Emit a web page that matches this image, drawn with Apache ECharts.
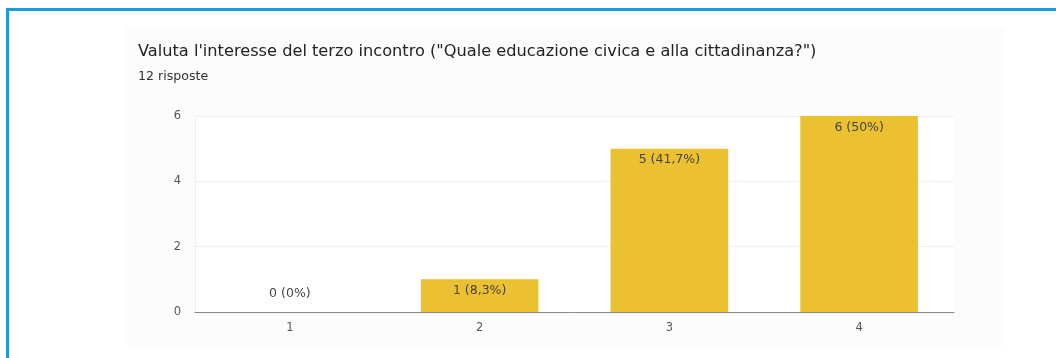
<!DOCTYPE html>
<html>
<head>
<meta charset="utf-8">
<script src="https://cdn.jsdelivr.net/npm/echarts@6/dist/echarts.min.js"></script>
<style>
html,body{margin:0;padding:0;background:#fff;}
#chart{width:1056px;height:358px;}
</style>
</head>
<body>
<div id="chart"></div>
<script>
const titleText = 'Valuta l\'interesse del terzo incontro ("Quale educazione civica e alla cittadinanza?")';
const subtitleText = '12 risposte';
const categories = ['1', '2', '3', '4'];
const counts = [0, 1, 5, 6];
const barLabels = ['0 (0%)', '1 (8,3%)', '5 (41,7%)', '6 (50%)'];
const yTicks = [0, 2, 4, 6];

const FONT = 'DejaVu Sans';
const chart = echarts.init(document.getElementById('chart'), null, {renderer: 'canvas'});
const option = {
  animation: false,
  backgroundColor: '#ffffff',
  graphic: [
    {type: 'rect', shape: {x: 125, y: 28, width: 880, height: 318}, style: {fill: '#fcfcfc'}, z: -10, silent: true},
    {type: 'rect', shape: {x: 6, y: 8, width: 1050, height: 3}, style: {fill: '#1a9be0'}, z: 10},
    {type: 'rect', shape: {x: 6, y: 8, width: 3, height: 350}, style: {fill: '#1a9be0'}, z: 10}
  ],
  title: [
    {text: titleText, left: 133, top: 39, textStyle: {fontFamily: FONT, fontSize: 16.2, fontWeight: 'normal', color: '#222'}},
    {text: subtitleText, left: 133, top: 65, textStyle: {fontFamily: FONT, fontSize: 12.6, fontWeight: 'normal', color: '#333'}}
  ],
  grid: {left: 195, right: 102, top: 116, bottom: 46, show: true, backgroundColor: '#ffffff', borderWidth: 0},
  xAxis: {
    type: 'category',
    data: categories,
    axisLine: {show: true, lineStyle: {color: '#888', width: 1}},
    axisTick: {show: false},
    axisLabel: {fontFamily: FONT, fontSize: 11.5, color: '#555', margin: 10},
    splitLine: {show: false}
  },
  yAxis: {
    type: 'value',
    min: yTicks[0],
    max: yTicks[yTicks.length - 1],
    interval: yTicks[1] - yTicks[0],
    axisLine: {show: true, lineStyle: {color: '#eeeeee'}},
    axisTick: {show: false},
    axisLabel: {fontFamily: FONT, fontSize: 11.5, color: '#555', margin: 14},
    splitLine: {show: true, lineStyle: {color: '#efefef', width: 1}}
  },
  series: [{
    type: 'bar',
    barWidth: '62%',
    itemStyle: {color: '#ebc131'},
    data: counts.map((v, i) => ({
      value: v,
      label: v === 0 ? {position: 'top', distance: 12} : {position: 'insideTop', distance: 5}
    })),
    label: {
      show: true,
      fontFamily: FONT,
      fontSize: 12.5,
      color: '#444',
      formatter: p => barLabels[p.dataIndex]
    }
  }]
};
chart.setOption(option);
</script>
</body>
</html>
